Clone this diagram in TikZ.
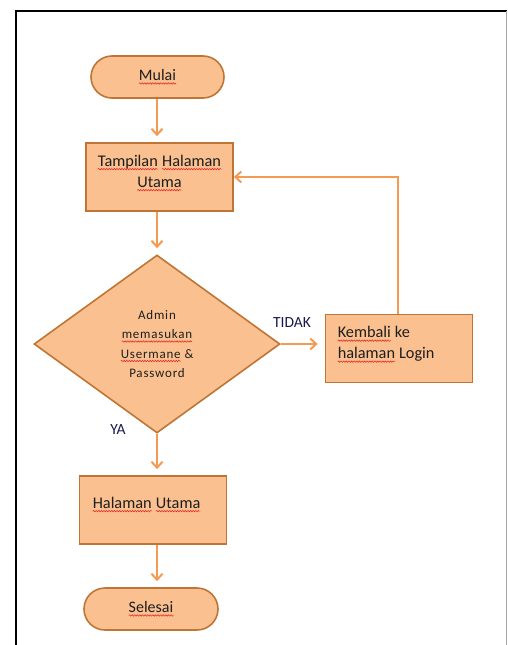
\documentclass[tikz,border=0pt]{standalone}
\usepackage{fontspec}
\setmainfont{Carlito}
\newfontfamily\spacedfont[LetterSpace=6]{Carlito}
\usetikzlibrary{shapes.geometric,arrows.meta,decorations.pathmorphing}

\definecolor{boxfill}{HTML}{FAC090}
\definecolor{boxline}{HTML}{BE7636}
\definecolor{flow}{HTML}{F59A52}
\definecolor{spellred}{HTML}{E8302A}
\definecolor{ink}{HTML}{1E1E1E}

\tikzset{
  every node/.style={text=ink},
  shapebase/.style={draw=boxline, line width=1.6pt, fill=boxfill, inner sep=0pt},
  terminal/.style={shapebase, rounded corners=21pt, minimum height=42pt, font=\fontsize{16}{18}\selectfont},
  procbox/.style={shapebase, minimum width=147pt, minimum height=68pt, font=\fontsize{16.3}{21}\selectfont},
  decision/.style={shapebase, diamond, aspect=1.38, minimum width=246pt, minimum height=178pt,
                   font=\spacedfont\fontsize{13}{19.5}\selectfont, align=center},
  flowarrow/.style={draw=flow, line width=2pt, -{Straight Barb[length=6pt,width=11pt,line width=2pt]}},
  branch/.style={font=\fontsize{15.5}{17}\selectfont, text=ink!80!blue},
  spellword/.style={draw=none, fill=none, shape=rectangle, rounded corners=0pt,
                    inner sep=0pt, outer sep=0pt, minimum width=0pt, minimum height=0pt, text=ink},
  spellline/.style={draw=spellred, line width=0.6pt, sharp corners,
                    decorate, decoration={snake, amplitude=0.7pt, segment length=2.6pt}},
}

% a word with a red wavy spell-check underline
\newcommand\spellwave[1]{\tikz[baseline=(sw.base)]{%
  \node[spellword] (sw) {#1};
  \draw[spellline] ([yshift=-2.8pt]sw.base west) -- ([yshift=-2.8pt]sw.base east);}}

\begin{document}
\begin{tikzpicture}[x=1pt,y=-1pt]
  \useasboundingbox (0,0) rectangle (507,645);

  % page frame
  \draw[line width=2pt, black] (16,645) -- (16,11) -- (507,11);
  \draw[line width=0.8pt, black!35] (506,11) -- (506,645);

  % flowchart shapes
  \node[terminal, minimum width=133pt] (mulai) at (157.5,77) {\spellwave{Mulai}};
  \node[procbox] (tampil) at (159.5,177)
    {\parbox[c][60pt][t]{143pt}{\centering\vspace*{8pt}\spellwave{Tampilan} \spellwave{Halaman}\\ \spellwave{Utama}}};
  \node[decision] (cek) at (157,344)
    {Admin\\ \spellwave{memasukan}\\ \spellwave{Usermane} \&\\ Password};
  \node[procbox] (kembali) at (399,348.5)
    {\parbox[c][60pt][t]{123pt}{\raggedright\vspace*{8pt}\spellwave{Kembali} ke\\ \spellwave{halaman} Login}};
  \node[procbox] (halaman) at (153,510)
    {\parbox[c][60pt][t]{121pt}{\raggedright\vspace*{17pt}\spellwave{Halaman} \spellwave{Utama}}};
  \node[terminal, minimum width=134pt] (selesai) at (151,609) {\spellwave{Selesai}};

  % branch labels
  \node[branch] (tidak) at (292,323) {TIDAK};
  \node[branch] (ya) at (118,430) {YA};

  % connectors
  \draw[flowarrow, shorten >=6pt] ([xshift=-0.5pt]mulai.south) -- ([xshift=-2.5pt]tampil.north);
  \draw[flowarrow, shorten >=6pt] ([xshift=-2.5pt]tampil.south) -- (cek.north);
  \draw[flowarrow, shorten >=7pt] (cek.east) -- (kembali.west |- cek.east);
  \draw[flowarrow] ([xshift=-1pt]kembali.north) |- (tampil.east);
  \draw[flowarrow, shorten >=6pt] (cek.south) -- (cek.south |- halaman.north);
  \draw[flowarrow, shorten >=6pt] ([xshift=4pt]halaman.south) -- ([xshift=6pt]selesai.north);
\end{tikzpicture}
\end{document}
